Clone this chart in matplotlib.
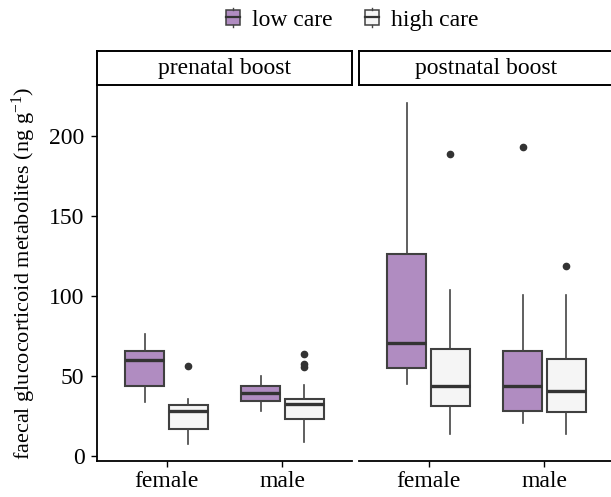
import matplotlib
matplotlib.use("Agg")
from matplotlib import pyplot as plt
from matplotlib.legend_handler import HandlerBase
from matplotlib.patches import Rectangle
from matplotlib.lines import Line2D
import numpy as np

plt.rcParams['font.family'] = ['Liberation Serif', 'DejaVu Serif']
plt.rcParams['mathtext.fontset'] = 'custom'
plt.rcParams['mathtext.rm'] = 'Liberation Serif'
plt.rcParams['mathtext.default'] = 'regular'

# Data (box stats)
panels = ['prenatal boost', 'postnatal boost']
sexes = ['female', 'male']
groups = ['low care', 'high care']

# per sex: (whislo, q1, med, q3, whishi)
low_pre = [(34.2, 43.8, 60.0, 65.6, 76.7), (28.1, 34.4, 39.4, 44.2, 50.4)]
high_pre = [(7.7, 17.3, 28.3, 32.0, 36.0), (8.8, 23.1, 32.7, 36.0, 44.6)]
low_post = [(45.4, 55.2, 70.6, 126.3, 220.8), (21.0, 28.3, 44.2, 65.8, 101.0)]
high_post = [(13.8, 31.7, 44.0, 67.0, 103.8), (14.0, 27.7, 40.6, 61.0, 101.0)]

out_low_pre = [[], []]
out_high_pre = [[56.5], [55.8, 58.0, 64.0]]
out_low_post = [[], [193.3]]
out_high_post = [[189.0], [118.8]]

fills = {'low care': '#b08cc1', 'high care': '#f5f5f5'}

stats = [
    {'low care': (low_pre, out_low_pre), 'high care': (high_pre, out_high_pre)},
    {'low care': (low_post, out_low_post), 'high care': (high_post, out_high_post)},
]

fig = plt.figure(figsize=(6.11, 4.97), dpi=100)
W, H = 611, 497
bot = (H - 461) / H
top = (H - 86) / H
axw = 255 / W
lefts = [97 / W, 359 / W]

offsets = {'low care': -0.1875, 'high care': 0.1875}
bw = 0.3375
fs = 17

for p in range(2):
    ax = fig.add_axes([lefts[p], bot, axw, top - bot])
    for g in groups:
        vals, outs = stats[p][g]
        bxs = []
        for i in range(2):
            lo, q1, med, q3, hi = vals[i]
            bxs.append({'whislo': lo, 'q1': q1, 'med': med, 'q3': q3,
                        'whishi': hi, 'fliers': outs[i]})
        pos = np.arange(1, 3) + offsets[g]
        ax.bxp(bxs, positions=pos, widths=bw, patch_artist=True,
               showcaps=False, manage_ticks=False,
               boxprops=dict(facecolor=fills[g], edgecolor='#404040', linewidth=1.5),
               medianprops=dict(color='#333333', linewidth=2.4, solid_capstyle='butt'),
               whiskerprops=dict(color='#444444', linewidth=1.2),
               flierprops=dict(marker='o', markersize=4.5, markerfacecolor='#333333',
                               markeredgecolor='#333333'))
    ax.set_xlim(0.4, 2.6)
    ax.set_ylim(-2.9, 231.5)
    ax.set_xticks([1, 2])
    ax.set_xticklabels(sexes)
    for s in ['top', 'right']:
        ax.spines[s].set_visible(False)
    ax.spines['bottom'].set_linewidth(1.3)
    ax.spines['left'].set_linewidth(1.3)
    ax.tick_params(axis='both', length=4, width=1.0, color='black', labelsize=fs,
                   pad=3)
    ax.tick_params(axis='y', pad=5)
    if p == 0:
        ax.set_yticks([0, 50, 100, 150, 200])
        ax.set_ylabel('faecal glucocorticoid metabolites (ng g$^{-1}$)', fontsize=16,
                      labelpad=8)
    else:
        ax.spines['left'].set_visible(False)
        ax.set_yticks([])

    # strip
    sax = fig.add_axes([lefts[p], (H - 84.5) / H, axw, 34 / H])
    sax.set_xticks([])
    sax.set_yticks([])
    for s in sax.spines.values():
        s.set_linewidth(1.4)
        s.set_color('black')
    sax.text(0.5, 0.47, panels[p], ha='center', va='center', fontsize=fs,
             transform=sax.transAxes)


class BoxHandler(HandlerBase):
    def __init__(self, fill):
        super().__init__()
        self.fill = fill

    def create_artists(self, legend, orig, xd, yd, width, height, fontsize, trans):
        cx = xd + width / 2
        bw_ = width * 0.75
        bh = height * 0.9
        y0 = yd + height / 2 - bh / 2
        r = Rectangle((cx - bw_ / 2, y0), bw_, bh, facecolor=self.fill,
                      edgecolor='#404040', linewidth=1.1, transform=trans)
        m = Line2D([cx - bw_ / 2, cx + bw_ / 2], [y0 + bh / 2] * 2, color='#333333',
                   linewidth=1.6, transform=trans)
        w1 = Line2D([cx, cx], [y0 + bh, y0 + bh + height * 0.15], color='#444444',
                    linewidth=1.0, transform=trans)
        w2 = Line2D([cx, cx], [y0 - height * 0.15, y0], color='#444444',
                    linewidth=1.0, transform=trans)
        return [r, m, w1, w2]


handles = [Rectangle((0, 0), 1, 1) for g in groups]
fig.legend(handles, groups, loc='center', bbox_to_anchor=(351 / W, (H - 20) / H),
           ncol=2, frameon=False, fontsize=fs, handlelength=0.8, handleheight=0.7,
           handletextpad=0.4, columnspacing=1.3,
           handler_map={handles[i]: BoxHandler(fills[g]) for i, g in enumerate(groups)})

fig.savefig('out.png', dpi=100)
